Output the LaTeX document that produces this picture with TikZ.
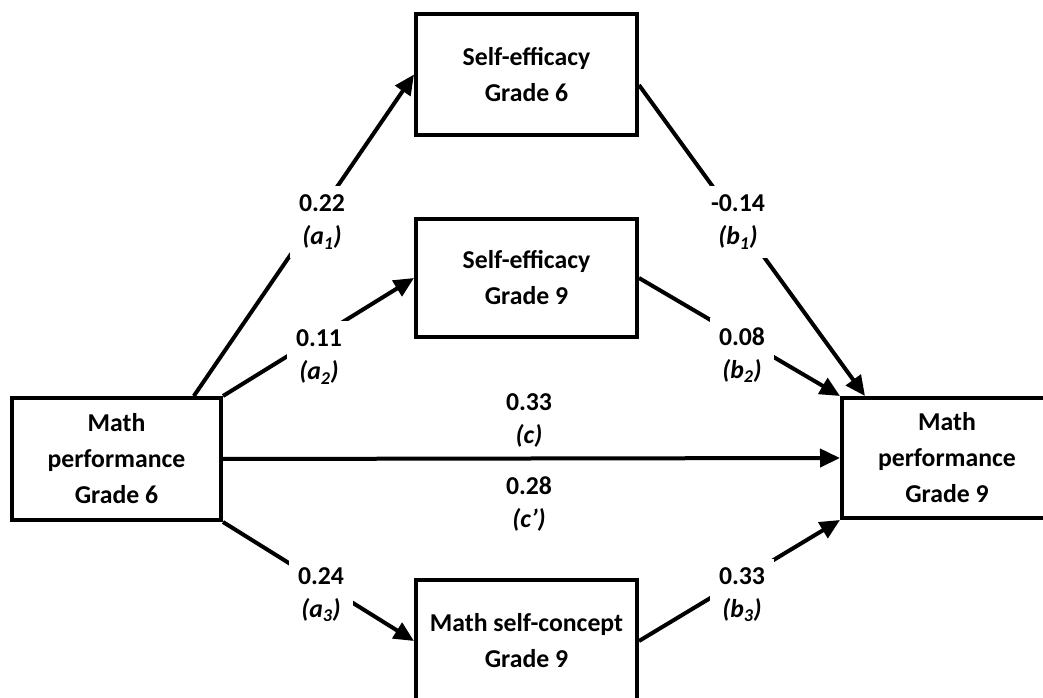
\documentclass[tikz,border=0pt]{standalone}
\usepackage{fontspec}
\setmainfont{Carlito}
\usetikzlibrary{arrows.meta,calc}
\begin{document}
\begin{tikzpicture}[x=0.75pt,y=-0.75pt,
  box/.style={draw=black,line width=3pt,align=center,inner sep=0pt,
    font=\fontsize{19.3}{27}\selectfont\bfseries},
  conn/.style={line width=3pt,-{Triangle[length=15pt,width=13.5pt]}},
  lbl/.style={fill=white,align=center,inner sep=7pt,
    font=\fontsize{19.3}{24.75}\selectfont\bfseries},
  lblc/.style={align=center,inner sep=0pt,
    font=\fontsize{19.3}{24.75}\selectfont\bfseries}]
\clip (0,0) rectangle (1043,698);
\fill[white] (0,0) rectangle (1043,698);
% boxes
\node[box,minimum width=165.75pt,minimum height=90.75pt] (se6) at (526.5,74.5) {Self-efficacy\\Grade 6};
\node[box,minimum width=165.75pt,minimum height=88.5pt] (se9) at (526.5,278) {Self-efficacy\\Grade 9};
\node[box,minimum width=156.75pt,minimum height=91.5pt] (mp6) at (116.5,459) {Math\\performance\\Grade 6};
\node[box,minimum width=157.5pt,minimum height=90pt] (mp9) at (947,458) {Math\\performance\\Grade 9};
\node[box,minimum width=165.75pt,minimum height=91.5pt] (msc) at (526.5,641) {Math self-concept\\Grade 9};
% connectors
\draw[conn] ([xshift=58pt]mp6.north) -- (se6.west);
\draw[conn] (mp6.north east) -- (se9.west);
\draw[conn] (mp6.east) -- (mp9.west);
\draw[conn] (mp6.south east) -- (msc.west);
\draw[conn] ([yshift=-7.9pt]se6.east) -- ([xshift=18.75pt]mp9.north west);
\draw[conn] (se9.east) -- (mp9.north west);
\draw[conn] (msc.east) -- (mp9.south west);
% labels
\node[lbl] (la1) at (322,222) {0.22\\\textit{(a\textsubscript{1})}};
\node[lbl] (la2) at (319,357) {0.11\\\textit{(a\textsubscript{2})}};
\node[lbl] (lb1) at (738,222) {-0.14\\\textit{(b\textsubscript{1})}};
\node[lbl] (lb2) at (742,355) {0.08\\\textit{(b\textsubscript{2})}};
\node[lblc] (lc) at (529,420) {0.33\\\textit{(c)}};
\node[lblc] (lcp) at (529,504) {0.28\\\textit{(c’)}};
\node[lbl] (la3) at (321,595) {0.24\\\textit{(a\textsubscript{3})}};
\node[lbl] (lb3) at (742,595) {0.33\\\textit{(b\textsubscript{3})}};
\end{tikzpicture}
\end{document}
